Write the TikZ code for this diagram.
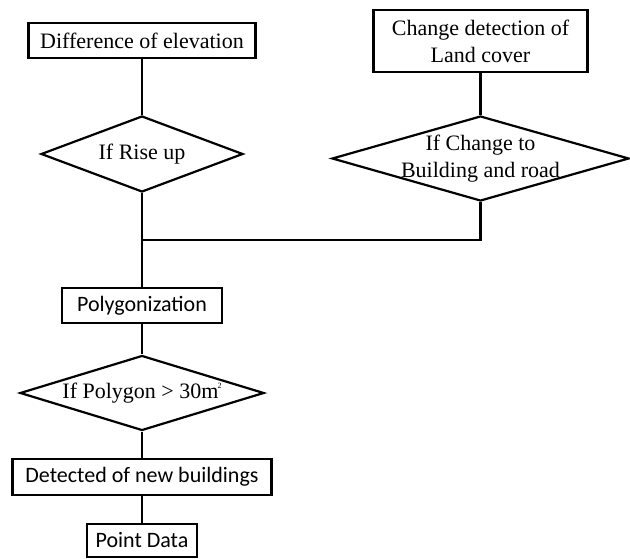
\documentclass[tikz,border=0pt]{standalone}
\usepackage{fontspec}
\setmainfont{Liberation Serif}
\newfontfamily\calibrifont{Carlito}
\usetikzlibrary{shapes.geometric,positioning}

\begin{document}
\begin{tikzpicture}[
      x=1pt, y=-1pt,
      mybox/.style={
         rectangle,
         draw,
         line width=2.2pt,
         inner sep=0pt,
         minimum height=35pt,
         font=\fontsize{22}{27}\selectfont},
      mysansbox/.style={mybox, font=\calibrifont\fontsize{22}{27}\selectfont},
      mydiamond/.style={
         diamond,
         draw,
         line width=2.2pt,
         inner sep=0pt},
      mytext/.style={align=center, inner sep=0pt, font=\fontsize{22}{27}\selectfont},
      myline/.style={line width=2.2pt}
      ]
      \useasboundingbox (0,0) rectangle (630,559);

      \node[mybox, minimum width=227pt] (diff) at (142,40.5) {Difference of elevation};
      \node[mybox, minimum width=214pt, minimum height=62pt, align=center] (chg) at (480.5,41) {Change detection of\\Land cover};
      \node[mydiamond, minimum width=202pt, minimum height=76pt] (rise) at (142,154) {};
      \node[mytext] (riset) at (rise) {If Rise up};
      \node[mydiamond, minimum width=297pt, minimum height=85pt] (chgd) at (480.5,158.5) {};
      \node[mytext] (chgdt) at (chgd) {If Change to\\Building and road};
      \coordinate (merge) at (142,240);
      \node[mysansbox, minimum width=160pt] (poly) at (142,305.5) {Polygonization};
      \node[mydiamond, minimum width=244pt, minimum height=75pt] (area) at (142,393) {};
      \node[mytext] (areat) at (area) {If Polygon > 30m\kern-1pt\raisebox{0.45em}{\fontsize{8}{8}\selectfont 2}};
      \node[mysansbox, minimum width=259pt, minimum height=36pt] (det) at (142,477) {Detected of new buildings};
      \node[mysansbox, minimum width=110pt, minimum height=33pt] (pt) at (142,540.5) {Point Data};

    \foreach \i/\j in {% upper node/lower node
      diff/rise,
      chg/chgd,
      rise/poly,
      poly/area,
      area/det,
      det/pt}
       \draw [myline] (\i) -- (\j);

     % right branch joins the main line
     \draw [myline] (chgd.south) |- (merge);
\end{tikzpicture}
\end{document}
